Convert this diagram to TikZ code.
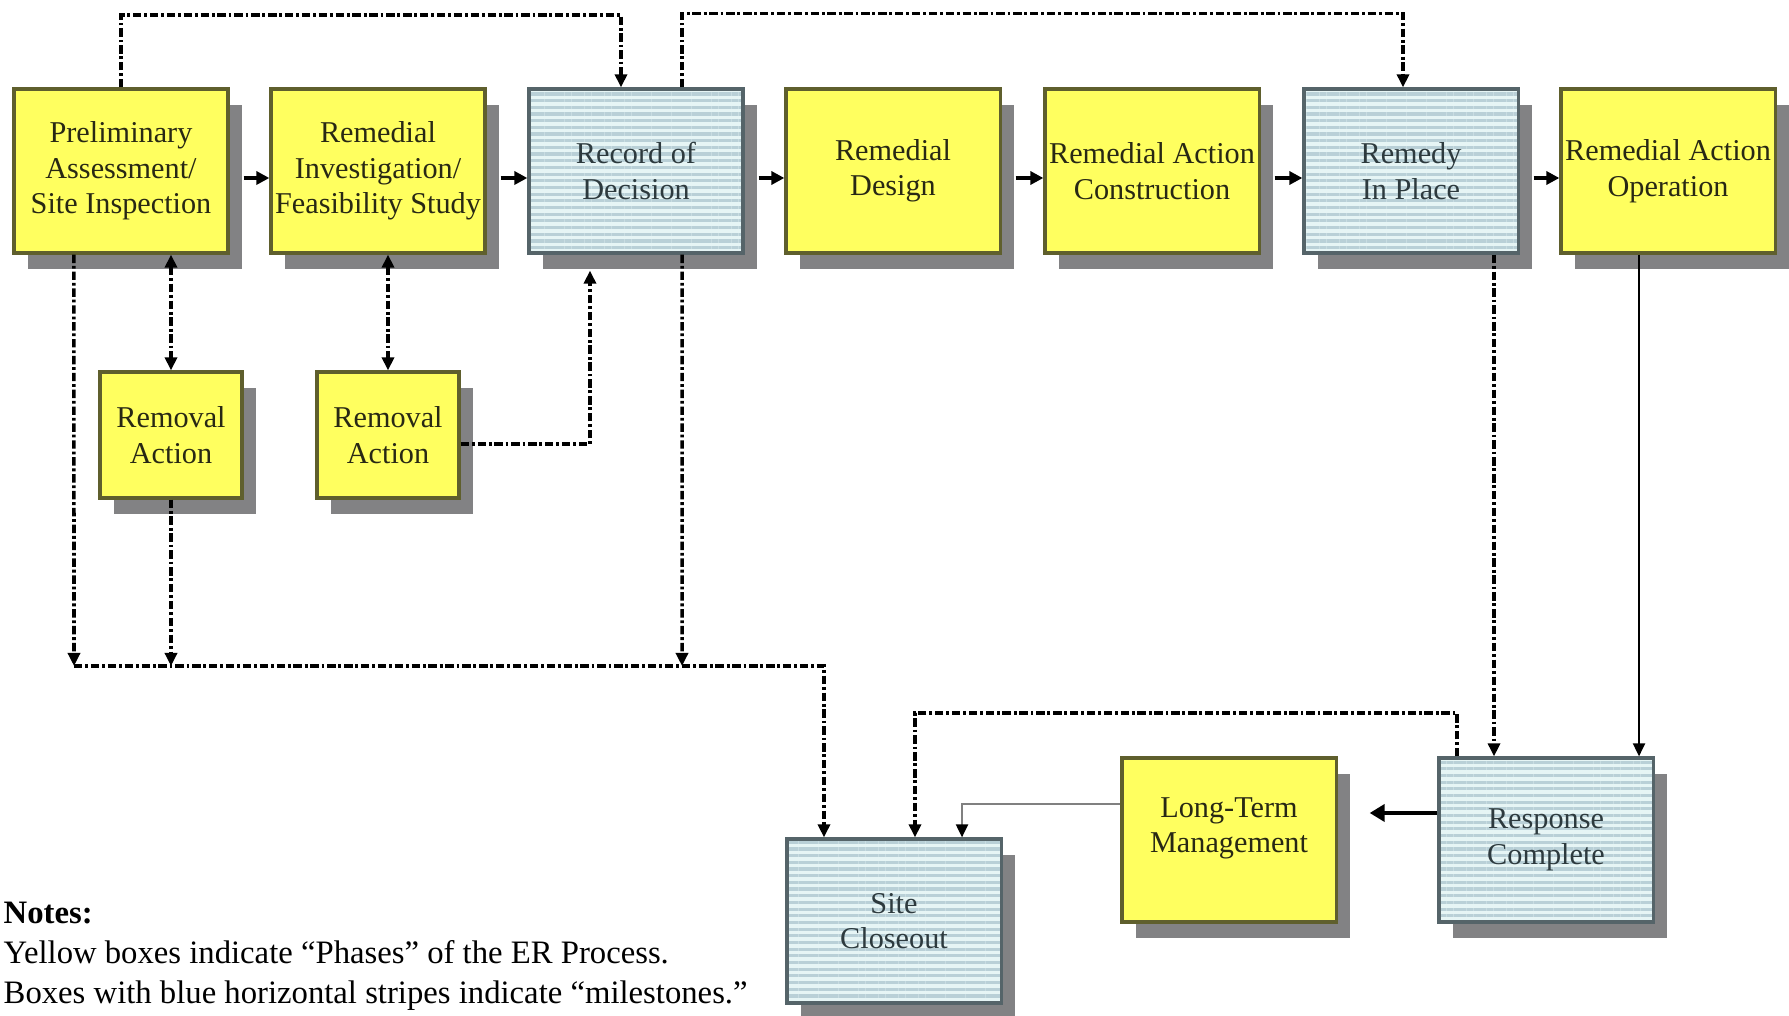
\documentclass[tikz,border=0pt]{standalone}
\usepackage{fontspec}
\setmainfont{Liberation Serif}
\usetikzlibrary{arrows.meta,shadows,patterns.meta}
\definecolor{phaseyellow}{RGB}{255,255,95}
\definecolor{phaseline}{RGB}{95,95,45}
\definecolor{milebg}{RGB}{230,245,245}
\definecolor{milestripe}{RGB}{185,208,215}
\definecolor{mileline}{RGB}{85,100,105}
\definecolor{shadowgray}{RGB}{130,130,132}
\definecolor{boxtext}{RGB}{40,40,20}
\definecolor{miletext}{RGB}{45,58,62}
\begin{document}
\begin{tikzpicture}[x=0.01cm,y=-0.01cm]
	\useasboundingbox (0,0) rectangle (1789,1016);
	\tikzstyle{every node}+=[inner sep=0pt]
	\tikzstyle{box}=[minimum width=2.14cm,minimum height=1.64cm,align=center,line width=0.9pt,font=\fontsize{8.6}{10.1}\selectfont,drop shadow={shadow xshift=1.4mm,shadow yshift=-1.6mm,fill=shadowgray,opacity=1}]
	\tikzstyle{phase}=[box,draw=phaseline,fill=phaseyellow,text=boxtext]
	\tikzstyle{milestone}=[box,draw=mileline,preaction={fill=milebg},pattern={Lines[angle=0,distance=1.9pt,line width=0.9pt]},pattern color=milestripe,text=miletext]
	\tikzstyle{removal}=[phase,minimum width=1.42cm,minimum height=1.26cm]
	\tikzstyle{flow}=[line width=1.1pt,-{Triangle[length=1.3mm,width=1.3mm]}]
	\tikzstyle{dd}=[line width=1pt,dash pattern=on 2.4pt off 0.8pt on 0.8pt off 0.8pt,-{Triangle[length=1.3mm,width=1.2mm]}]
	\tikzstyle{ddboth}=[dd,{Triangle[length=1.3mm,width=1.2mm]}-{Triangle[length=1.3mm,width=1.2mm]}]

	\node[phase] (pa) at (121,171) {Preliminary\\Assessment/\\Site Inspection};
	\node[phase] (rifs) at (378,171) {Remedial\\Investigation/\\Feasibility Study};
	\node[milestone] (rod) at (636,171) {Record of\\Decision};
	\node[phase] (rd) at (893,171) {Remedial\\Design};
	\node[phase] (rac) at (1152,171) {Remedial Action\\Construction};
	\node[milestone] (rip) at (1411,171) {Remedy\\In Place};
	\node[phase] (rao) at (1668,171) {Remedial Action\\Operation};
	\node[removal] (ra1) at (171,435) {Removal\\Action};
	\node[removal] (ra2) at (388,435) {Removal\\Action};
	\node[milestone] (sc) at (894,921) {Site\\Closeout};
	\node[phase] (ltm) at (1229,840) {Long-Term\\Management\\[-0.6mm]};
	\node[milestone] (rc) at (1546,840) {Response\\Complete};
	\node[anchor=west,align=left,font=\fontsize{9.3}{11.4}\selectfont] (notes) at (3,956) {\textbf{Notes:}\\Yellow boxes indicate ``Phases'' of the ER Process.\\Boxes with blue horizontal stripes indicate ``milestones.''};

	\coordinate (toprow) at (0,15);
	\coordinate (bus) at (74,666);

	\foreach \a/\b in {pa/rifs,rifs/rod,rod/rd,rd/rac,rac/rip,rip/rao}
		\draw[flow] ([xshift=1.4mm,yshift=-0.7mm]\a.east) -- ([yshift=-0.7mm]\b.west);

	\draw[dd] (pa.north) -- (pa.north |- toprow) -| ([xshift=-1.5mm]rod.north);
	\draw[dd] ([xshift=4.6mm]rod.north) -- ++(0,-74) -| ([xshift=-0.8mm]rip.north);
	\draw[dd] ([xshift=-4.7mm]pa.south) -- (bus);
	\draw[ddboth] (pa.south -| ra1.north) -- (ra1.north);
	\draw[dd] (ra1.south) -- (ra1.south |- bus);
	\draw[ddboth] (rifs.south -| ra2.north) -- (ra2.north);
	\draw[dd] ([yshift=-0.9mm]ra2.east) -| ([xshift=-4.6mm,yshift=-1.6mm]rod.south);
	\draw[dd] ([xshift=4.6mm]rod.south) -- (682,0 |- bus);
	\draw[dd] (bus) -| ([xshift=-7mm]sc.north);
	\draw[dd] (1494,0 |- rip.south) -- (1494,0 |- rc.north);
	\draw[line width=0.6pt,-{Triangle[length=1.3mm,width=1.2mm]}] (1639,0 |- rao.south) -- (1639,0 |- rc.north);
	\draw[dd] (1457,0 |- rc.north) |- (915,713) -- (915,0 |- sc.north);
	\draw[gray,line width=0.6pt,-{Triangle[length=1.3mm,width=1.2mm,color=black]}] ([yshift=3.6mm]ltm.west) -| (962,0 |- sc.north);
	\draw[line width=1.4pt,-{Triangle[length=1.5mm,width=1.7mm]}] ([yshift=2.7mm]rc.west) -- ([xshift=3.2mm,yshift=2.7mm]ltm.east);
\end{tikzpicture}
\end{document}
